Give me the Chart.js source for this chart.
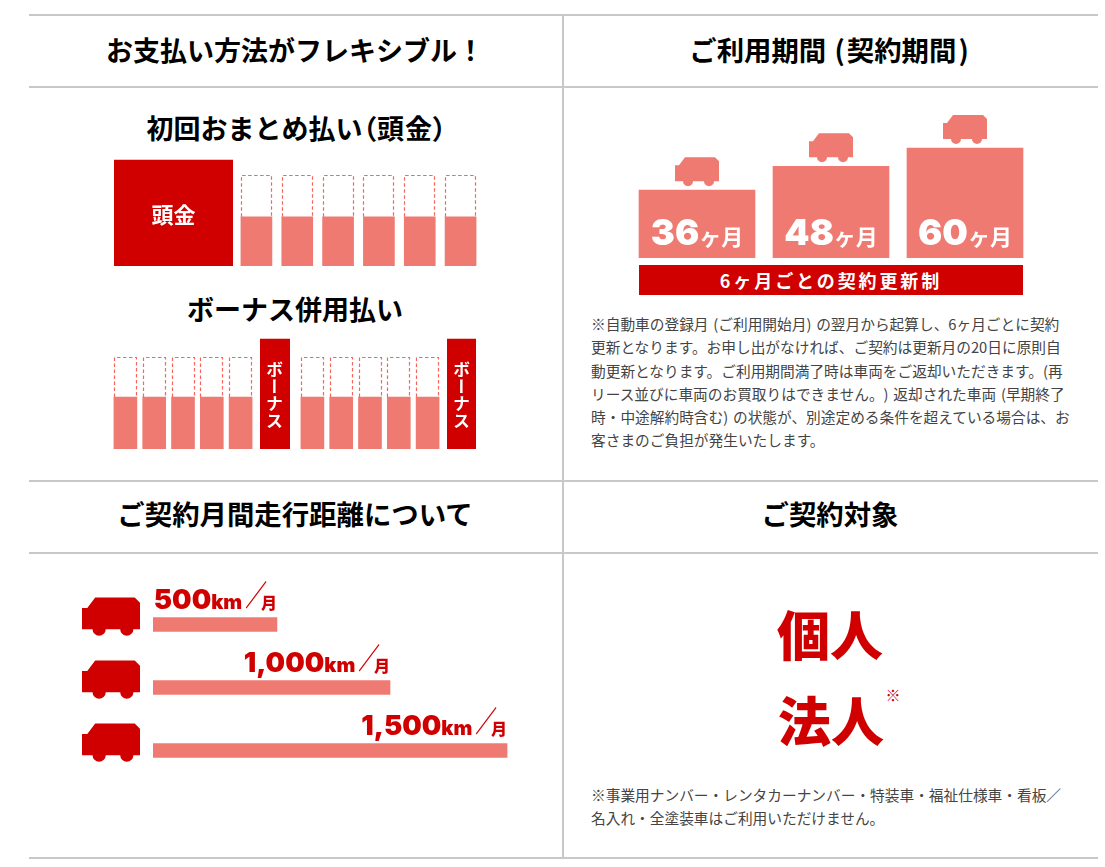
<!DOCTYPE html>
<html lang="ja">
<head>
<meta charset="utf-8">
<title>お支払い方法</title>
<script src="https://cdn.jsdelivr.net/npm/chart.js@4/dist/chart.umd.min.js"></script>
<style>
  html, body { margin: 0; padding: 0; background: #fff; overflow: hidden; }
  body { width: 1105px; height: 867px; position: relative; font-family: "Noto Sans CJK JP", sans-serif; color: #000; text-spacing-trim: space-all; }
  canvas { position: absolute; }
  .line { position: absolute; background: #c8c8c8; }
  .txt { position: absolute; white-space: nowrap; text-align: center; transform: translateX(-50%); line-height: 1; }
  .title { font-size: 27px; font-weight: 700; }
  .wide { font-size: 27.4px; }
  .palt { font-feature-settings: "palt"; letter-spacing: 1px; }
  .par { padding: 0 2px; }
  .band { position: absolute; left: 639px; top: 265px; width: 384px; height: 30px; line-height: 30px; background: #d00000; color: #fff; font-size: 18px; font-weight: 700; letter-spacing: 2.9px; text-align: center; }
  .bonus { position: absolute; z-index: 2; color: #fff; font-size: 17px; font-weight: 700; writing-mode: vertical-rl; line-height: 1; white-space: nowrap; }
  .note { position: absolute; left: 591px; font-size: 14.7px; line-height: 23.3px; color: #444; white-space: nowrap; word-spacing: 1.5px; }
  .big { font-size: 53px; font-weight: 900; color: #d00000; }
</style>
</head>
<body>
<div class="line" style="left:29px;top:14px;width:1069px;height:2px"></div>
<div class="line" style="left:29px;top:86px;width:1069px;height:2px"></div>
<div class="line" style="left:29px;top:480px;width:1069px;height:2px"></div>
<div class="line" style="left:29px;top:552px;width:1069px;height:2px"></div>
<div class="line" style="left:29px;top:857px;width:1069px;height:2px"></div>
<div class="line" style="left:562px;top:14px;width:2px;height:845px"></div>

<div class="txt title" style="left:295px;top:36px">お支払い方法がフレキシブル！</div>
<div class="txt title wide" style="left:830px;top:36px">ご利用期間 <span class="par">(</span>契約期間<span class="par">)</span></div>
<div class="txt title wide" style="left:295px;top:500px">ご契約月間走行距離について</div>
<div class="txt title wide" style="left:830px;top:500px">ご契約対象</div>

<div class="txt title" style="left:297px;top:114px">初回おまとめ払い<span class="palt">（頭金）</span></div>
<div class="txt title" style="left:295px;top:295px">ボーナス併用払い</div>

<div class="band">6ヶ月ごとの契約更新制</div>

<div class="note" style="top:312px">※自動車の登録月 (ご利用開始月) の翌月から起算し、6ヶ月ごとに契約<br>更新となります。お申し出がなければ、ご契約は更新月の20日に原則自<br>動更新となります。ご利用期間満了時は車両をご返却いただきます。(再<br>リース並びに車両のお買取りはできません。) 返却された車両 (早期終了<br>時・中途解約時含む) の状態が、別途定める条件を超えている場合は、お<br>客さまのご負担が発生いたします。</div>

<div class="txt big" style="left:830px;top:607px">個人</div>
<div class="txt big" style="left:831px;top:693px">法人</div>
<div class="txt" style="left:893px;top:687px;font-size:15px;color:#d00000">※</div>

<div class="note" style="top:783px">※事業用ナンバー・レンタカーナンバー・特装車・福祉仕様車・看板／<br>名入れ・全塗装車はご利用いただけません。</div>

<div class="bonus" style="left:266px;top:361px">ボーナス</div>
<div class="bonus" style="left:453px;top:361px">ボーナス</div>

<script>
// values; monthly payment "full" height = 100
const downPayment = [116.5];
const downLabel = '頭金';
const monthlyPaid = [54, 54, 54, 54, 54, 54];
const monthlyRest = [46, 46, 46, 46, 46, 46];

const bonusPaid = [56.5, 56.5, 56.5, 56.5, 56.5];
const bonusRest = [43.5, 43.5, 43.5, 43.5, 43.5];
const bonusAmount = [119.5];

const contractNames = ['36', '48', '60'];
const contractUnit = 'ヶ月';
const contractBars = [37, 50, 60];

const mileageNames = ['500', '1,000', '1,500'];
const mileageBars = [523, 1000, 1494];

const RED = '#d00000';
const PINK = '#ef7a71';
const CJK = '"Noto Sans CJK JP", sans-serif';
const LATIN = 'Inter, "DejaVu Sans", sans-serif';

// silhouette of the van, facing left, 44 wide
function drawCar(ctx, x, y, s, color) {
  ctx.save();
  ctx.translate(x, y);
  ctx.scale(s, s);
  ctx.fillStyle = color;
  ctx.beginPath();
  ctx.moveTo(0, 8); ctx.lineTo(4, 8); ctx.lineTo(10, 0); ctx.lineTo(40, 0);
  ctx.lineTo(44, 4); ctx.lineTo(44, 24); ctx.lineTo(0, 24);
  ctx.closePath();
  ctx.moveTo(18, 24); ctx.arc(13, 24, 5, 0, Math.PI * 2);
  ctx.moveTo(39, 24); ctx.arc(34, 24, 5, 0, Math.PI * 2);
  ctx.fill();
  ctx.restore();
}

// runs of differently sized text, placed left to right ending or centred on x
function drawRuns(ctx, runs, x, y, align, color) {
  ctx.save();
  ctx.fillStyle = color;
  ctx.textAlign = 'left';
  ctx.textBaseline = 'alphabetic';
  let total = 0;
  runs.forEach(r => {
    ctx.font = r.font;
    r.w = ctx.measureText(r.text).width * (r.sx || 1) + (r.gap || 0);
    total += r.w;
  });
  let cx = align === 'right' ? x - total : x - total / 2;
  runs.forEach(r => {
    ctx.save();
    ctx.font = r.font;
    ctx.translate(cx, y + (r.dy || 0));
    ctx.scale(r.sx || 1, 1);
    ctx.fillText(r.text, 0, 0);
    ctx.restore();
    cx += r.w;
  });
  ctx.restore();
}

const dashedTops = {
  id: 'dashedTops',
  afterDatasetsDraw(chart) {
    const { ctx } = chart;
    chart.getDatasetMeta(1).data.forEach(el => {
      const l = Math.round(el.x - el.width / 2) + 0.5;
      const r = Math.round(el.x + el.width / 2) - 0.5;
      const t = Math.round(el.y) + 0.5;
      ctx.save();
      ctx.strokeStyle = '#f2675e';
      ctx.lineWidth = 1.2;
      ctx.setLineDash([3.5, 2.5]);
      ctx.beginPath();
      ctx.moveTo(l, el.base); ctx.lineTo(l, t); ctx.lineTo(r, t); ctx.lineTo(r, el.base);
      ctx.stroke();
      ctx.restore();
    });
  }
};

function mount(left, top, width, height) {
  const c = document.createElement('canvas');
  c.width = width;
  c.height = height;
  c.style.cssText = `left:${left}px;top:${top}px;width:${width}px;height:${height}px`;
  document.body.appendChild(c);
  return c;
}

function barChart(box, labels, datasets, opts) {
  return new Chart(mount(...box), {
    type: 'bar',
    data: { labels, datasets },
    plugins: opts.plugins || [],
    options: {
      indexAxis: opts.indexAxis || 'x',
      responsive: false,
      animation: false,
      devicePixelRatio: 1,
      layout: { padding: opts.padding || 0 },
      plugins: { legend: { display: false }, tooltip: { enabled: false } },
      scales: {
        x: { display: false, stacked: true, ...(opts.x || {}) },
        y: { display: false, stacked: true, ...(opts.y || {}) }
      }
    }
  });
}

function bars(data, color, thickness) {
  return { data, backgroundColor: color, barThickness: thickness, borderWidth: 0 };
}
const idx = arr => arr.map((_, i) => String(i + 1));

// initial lump-sum chart: the down payment, then the reduced monthly payments
barChart([114, 156, 119, 110], [downLabel], [bars(downPayment, RED, 119)], {
  y: { min: 0, max: 110 / 0.91 },
  plugins: [{
    id: 'downText',
    afterDatasetsDraw(chart) {
      const el = chart.getDatasetMeta(0).data[0];
      drawRuns(chart.ctx, [{ text: downLabel, font: '700 22px ' + CJK }], el.x, (el.y + el.base) / 2 + 10, 'center', '#fff');
    }
  }]
});
barChart([236, 170, 245, 96], idx(monthlyPaid), [bars(monthlyPaid, PINK, 31), bars(monthlyRest, 'rgba(0,0,0,0)', 31)], {
  y: { min: 0, max: 96 / 0.91 },
  plugins: [dashedTops]
});

// bonus chart: two half years, each five months followed by a bonus
const bonusMax = 119 / 0.92;
barChart([111, 330, 144, 119], idx(bonusPaid), [bars(bonusPaid, PINK, 23), bars(bonusRest, 'rgba(0,0,0,0)', 23)], {
  y: { min: 0, max: bonusMax }, plugins: [dashedTops]
});
barChart([260, 330, 30, 119], ['ボーナス'], [bars(bonusAmount, RED, 30)], { y: { min: 0, max: bonusMax } });
barChart([298, 330, 144, 119], idx(bonusPaid), [bars(bonusPaid, PINK, 23), bars(bonusRest, 'rgba(0,0,0,0)', 23)], {
  y: { min: 0, max: bonusMax }, plugins: [dashedTops]
});
barChart([447, 330, 29, 119], ['ボーナス'], [bars(bonusAmount, RED, 29)], { y: { min: 0, max: bonusMax } });

// contract length
barChart([630, 110, 402, 148], contractNames, [bars(contractBars, PINK, 116)], {
  y: { min: 0, max: 148 / (110 / 60) },
  plugins: [{
    id: 'contractMarks',
    afterDatasetsDraw(chart) {
      const { ctx } = chart;
      chart.getDatasetMeta(0).data.forEach((el, i) => {
        drawCar(ctx, el.x - 22, el.y - 33, 1, PINK);
        drawRuns(ctx, [
          { text: contractNames[i], font: '900 36px ' + LATIN },
          { text: contractUnit, font: '700 22px ' + CJK }
        ], el.x, el.base - 13, 'center', '#fff');
      });
    }
  }]
});

// monthly mileage
barChart([80, 571, 440, 211], mileageNames, [bars(mileageBars, PINK, 14)], {
  indexAxis: 'y',
  padding: { left: 73, top: 22 },
  x: { min: 0, max: 367 / 0.237, stacked: false },
  y: { stacked: false },
  plugins: [{
    id: 'mileageMarks',
    afterDatasetsDraw(chart) {
      const { ctx } = chart;
      chart.getDatasetMeta(0).data.forEach((el, i) => {
        const top = el.y - 7;
        drawCar(ctx, 82 - chart.canvas.offsetLeft, top - 20, 58 / 44, RED);
        drawRuns(ctx, [
          { text: mileageNames[i], font: '900 27.5px ' + LATIN },
          { text: 'km', font: '900 20px ' + LATIN, gap: 3 },
          { text: '／', font: '900 29px ' + CJK, sx: 0.75, gap: -6, dy: -3 },
          { text: '月', font: '900 16px ' + CJK }
        ], el.x, top - 9, 'right', RED);
      });
    }
  }]
});
</script>
</body>
</html>
